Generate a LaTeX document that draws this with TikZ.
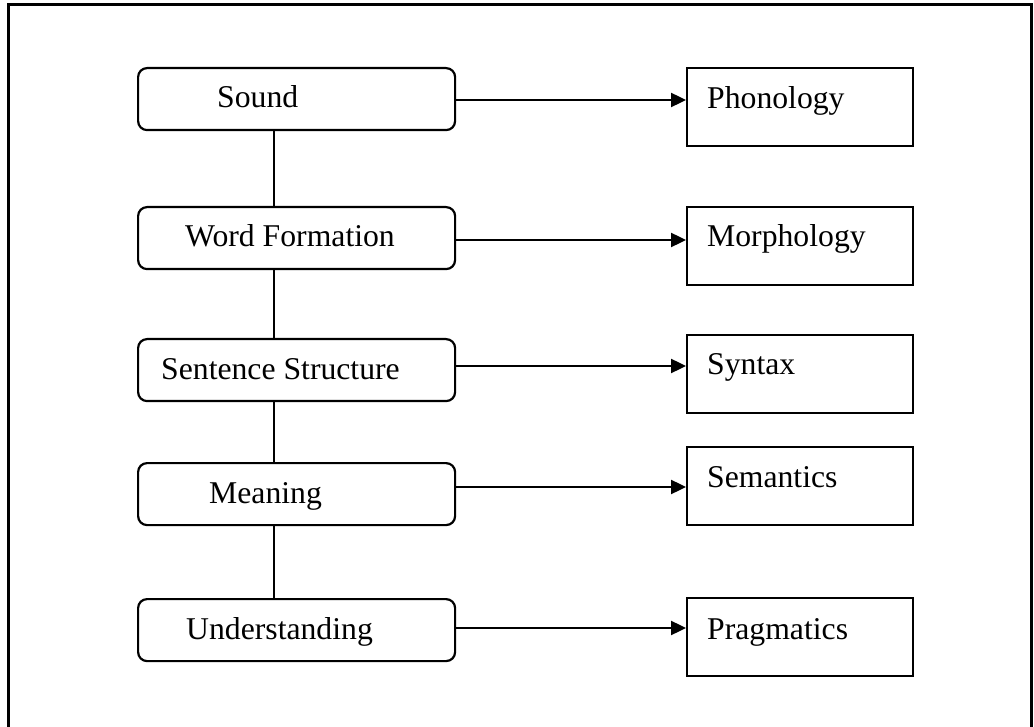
\documentclass[tikz,border=0pt]{standalone}
\usepackage{fontspec}
\setmainfont{Liberation Serif}
\usetikzlibrary{arrows.meta}
\begin{document}
\begin{tikzpicture}[x=1pt,y=-1pt,
  lvl/.style={draw,line width=2.2pt,rounded corners=9pt,minimum width=317pt,
    minimum height=62pt,inner sep=0pt,anchor=north west},
  fld/.style={draw,line width=2.2pt,minimum width=226pt,minimum height=78pt,
    inner sep=0pt,anchor=north west},
  lbl/.style={anchor=base west,inner sep=0pt,font=\fontsize{31.7}{38}\selectfont},
  link/.style={line width=1.8pt},
  arr/.style={line width=2.4pt,-{Triangle[length=15pt,width=14pt]}}]
\useasboundingbox (0,0) rectangle (1034,727);
% outer frame
\draw[line width=3pt] (8,760) -- (8,5) -- (1031,5) -- (1031,760);

% levels of language
\node[lvl] (l1) at (137,67) {};
\node[lvl] (l2) at (137,206) {};
\node[lvl] (l3) at (137,338) {};
\node[lvl] (l4) at (137,462) {};
\node[lvl] (l5) at (137,598) {};
\node[lbl] (t1) at (217,108) {Sound};
\node[lbl] (t2) at (185,247) {Word Formation};
\node[lbl] (t3) at (161,380) {Sentence Structure};
\node[lbl] (t4) at (209,503) {Meaning};
\node[lbl] (t5) at (186,639) {Understanding};

% linguistic fields
\node[fld] (r1) at (686,67) {};
\node[fld] (r2) at (686,206) {};
\node[fld] (r3) at (686,334) {};
\node[fld] (r4) at (686,446) {};
\node[fld] (r5) at (686,597) {};
\node[lbl] (p1) at (707,109) {Phonology};
\node[lbl] (p2) at (707,247) {Morphology};
\node[lbl] (p3) at (707,375) {Syntax};
\node[lbl] (p4) at (707,487) {Semantics};
\node[lbl] (p5) at (707,639) {Pragmatics};

% vertical spine joining the levels
\coordinate (spine) at (274,0);
\draw[link] (l1.south -| spine) -- (l2.north -| spine);
\draw[link] (l2.south -| spine) -- (l3.north -| spine);
\draw[link] (l3.south -| spine) -- (l4.north -| spine);
\draw[link] (l4.south -| spine) -- (l5.north -| spine);

% arrows from each level to its field
\coordinate (a1) at (0,100);
\coordinate (a2) at (0,240);
\coordinate (a3) at (0,366);
\coordinate (a4) at (0,487);
\coordinate (a5) at (0,628);
\draw[arr] (l1.east |- a1) -- (r1.west |- a1);
\draw[arr] (l2.east |- a2) -- (r2.west |- a2);
\draw[arr] (l3.east |- a3) -- (r3.west |- a3);
\draw[arr] (l4.east |- a4) -- (r4.west |- a4);
\draw[arr] (l5.east |- a5) -- (r5.west |- a5);
\end{tikzpicture}
\end{document}
